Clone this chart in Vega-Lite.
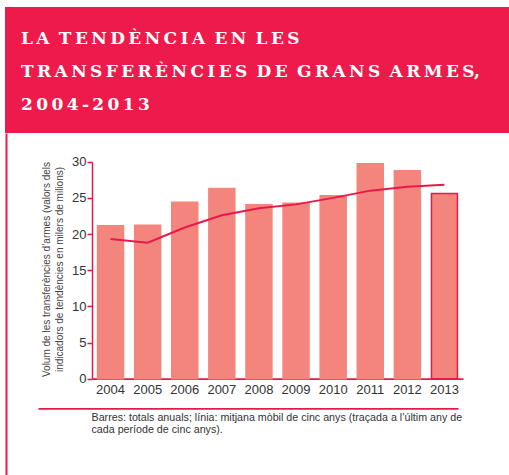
{
  "$schema": "https://vega.github.io/schema/vega-lite/v6.json",
  "padding": {"left": 5, "top": 7, "right": 0, "bottom": 0},
  "spacing": 0,
  "config": {
    "view": {"stroke": null},
    "axis": {"grid": false},
    "font": "Liberation Sans"
  },
  "data": {
    "values": [
      {"year": "2004", "total": 21.15, "avg": 19.3},
      {"year": "2005", "total": 21.2, "avg": 18.8},
      {"year": "2006", "total": 24.4, "avg": 20.9},
      {"year": "2007", "total": 26.3, "avg": 22.6},
      {"year": "2008", "total": 24.05, "avg": 23.55},
      {"year": "2009", "total": 24.25, "avg": 24.1},
      {"year": "2010", "total": 25.3, "avg": 25.0},
      {"year": "2011", "total": 29.7, "avg": 26.0},
      {"year": "2012", "total": 28.75, "avg": 26.55},
      {"year": "2013", "total": 25.6, "avg": 26.8}
    ]
  },
  "vconcat": [
    {
      "width": 504,
      "height": 126,
      "view": {"fill": "#EE1A4B", "stroke": null},
      "title": {
        "text": [
          "L\u2009A \u2009T\u2009E\u2009N\u2009D\u2009È\u2009N\u2009C\u2009I\u2009A \u2009E\u2009N \u2009L\u2009E\u2009S",
          "T\u2009R\u2009A\u2009N\u2009S\u2009F\u2009E\u2009R\u2009È\u2009N\u2009C\u2009I\u2009E\u2009S \u2009D\u2009E \u2009G\u2009R\u2009A\u2009N\u2009S \u2009A\u2009R\u2009M\u2009E\u2009S,",
          "2\u20090\u20090\u20094\u2009-\u20092\u20090\u20091\u20093"
        ],
        "anchor": "start",
        "frame": "group",
        "orient": "top",
        "offset": -119.5,
        "dx": 16,
        "baseline": "alphabetic",
        "font": "DejaVu Serif",
        "fontSize": 17,
        "fontWeight": "bold",
        "color": "#FFFFFF",
        "lineHeight": 33
      },
      "mark": {"type": "point", "opacity": 0, "size": 0}
    },
    {
      "width": 504,
      "height": 342,
      "view": {"stroke": null},
      "layer": [
        {
          "encoding": {
            "x": {
              "field": "year",
              "type": "ordinal",
              "title": null,
              "scale": {"range": [87, 458], "paddingInner": 0.3, "paddingOuter": 0.15},
              "axis": {
                "orient": "bottom",
                "offset": -96.3,
                "domainColor": "#E8194A",
                "domainWidth": 1.8,
                "ticks": false,
                "tickSize": 0,
                "labelPadding": 5,
                "labelAngle": 0,
                "labelFont": "Liberation Sans",
                "labelFontSize": 13,
                "labelColor": "#333333"
              }
            }
          },
          "layer": [
            {
              "mark": {"type": "bar", "fill": "#F3857D", "strokeWidth": 1.5},
              "encoding": {
                "y": {
                  "field": "total",
                  "type": "quantitative",
                  "title": ["Volum de les transferències d’armes (valors dels", "indicadors de tendències en milers de milions)"],
                  "scale": {"domain": [0, 30], "range": [245.7, 28.7], "nice": false, "zero": true},
                  "axis": {
                    "orient": "left",
                    "offset": -87,
                    "values": [0, 5, 10, 15, 20, 25, 30],
                    "domainColor": "#E8194A",
                    "domainWidth": 1.5,
                    "tickColor": "#E8194A",
                    "tickWidth": 1.5,
                    "tickSize": 5,
                    "labelPadding": 1,
                    "labelFont": "Liberation Sans",
                    "labelFontSize": 13,
                    "labelColor": "#333333",
                    "titleFont": "Liberation Sans",
                    "titleFontSize": 10,
                    "titleFontWeight": "normal",
                    "titleColor": "#444444",
                    "titleBaseline": "alphabetic",
                    "titleLineHeight": 13,
                    "titleX": -43,
                    "titleY": 136
                  }
                },
                "stroke": {
                  "condition": {"test": "datum.year === '2013'", "value": "#E8194A"},
                  "value": "#F3857D"
                }
              }
            },
            {
              "mark": {"type": "line", "color": "#E8194A", "strokeWidth": 2},
              "encoding": {
                "y": {
                  "field": "avg",
                  "type": "quantitative",
                  "title": ["Volum de les transferències d’armes (valors dels", "indicadors de tendències en milers de milions)"]
                }
              }
            }
          ]
        },
        {
          "mark": {"type": "point", "opacity": 0, "size": 0},
          "encoding": {
            "x": {
              "datum": 0,
              "type": "quantitative",
              "scale": {"domain": [0, 1], "range": [33, 453]},
              "axis": {
                "orient": "bottom",
                "offset": -66.7,
                "domainColor": "#E8194A",
                "domainWidth": 1.8,
                "ticks": false,
                "labels": false,
                "grid": false,
                "title": ["Barres: totals anuals; línia: mitjana mòbil de cinc anys (traçada a l’últim any de", "cada període de cinc anys)."],
                "titleAnchor": "start",
                "titleAlign": "left",
                "titleBaseline": "alphabetic",
                "titleX": 86,
                "titleY": 11.7,
                "titleFont": "Liberation Sans",
                "titleFontSize": 10.7,
                "titleFontWeight": "normal",
                "titleColor": "#333333",
                "titleLineHeight": 12.5
              }
            },
            "y": {
              "datum": 0,
              "type": "quantitative",
              "scale": {"domain": [0, 1]},
              "axis": {
                "orient": "left",
                "offset": -1,
                "domainColor": "#EE1A4B",
                "domainWidth": 2,
                "ticks": false,
                "labels": false,
                "grid": false,
                "title": null
              }
            }
          }
        }
      ],
      "resolve": {"scale": {"x": "independent", "y": "independent"}, "axis": {"x": "independent", "y": "independent"}}
    }
  ]
}
